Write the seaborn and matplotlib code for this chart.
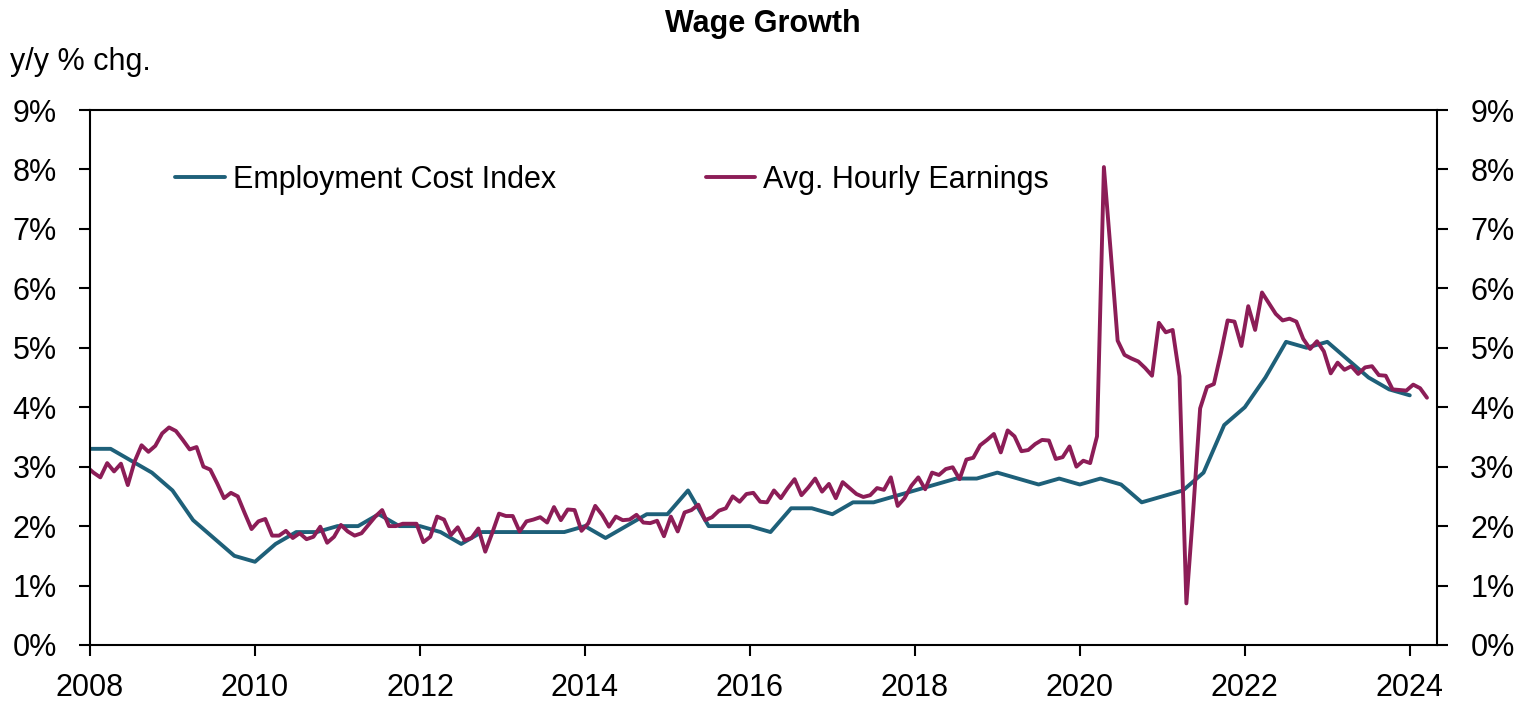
import numpy as np
import pandas as pd
import matplotlib
matplotlib.use("Agg")
import matplotlib.pyplot as plt
from matplotlib.ticker import FuncFormatter
import seaborn as sns

# ---------------- data ----------------
# Employment Cost Index, y/y % chg, quarterly (Q4 2007 .. Q4 2023)
eci_start = "2007Q4"
eci_values = [3.3, 3.3, 3.1, 2.9, 2.6, 2.1, 1.8, 1.5, 1.4, 1.7, 1.9, 1.9,
              2.0, 2.0, 2.2, 2.0, 2.0, 1.9, 1.7, 1.9, 1.9, 1.9, 1.9, 1.9,
              2.0, 1.8, 2.0, 2.2, 2.2, 2.6, 2.0, 2.0, 2.0, 1.9, 2.3, 2.3,
              2.2, 2.4, 2.4, 2.5, 2.6, 2.7, 2.8, 2.8, 2.9, 2.8, 2.7, 2.8,
              2.7, 2.8, 2.7, 2.4, 2.5, 2.6, 2.9, 3.7, 4.0, 4.5, 5.1, 5.0,
              5.1, 4.8, 4.5, 4.3, 4.2]

# Average Hourly Earnings, y/y % chg, monthly (Dec 2007 .. Mar 2024)
ahe_start = "2007-12"
ahe_values = [3.00, 2.90, 2.82, 3.06, 2.92, 3.05, 2.69, 3.09, 3.36, 3.25, 3.35, 3.56,
              3.66, 3.60, 3.45, 3.29, 3.33, 3.00, 2.95, 2.72, 2.47, 2.56, 2.50, 2.22,
              1.95, 2.08, 2.12, 1.84, 1.84, 1.92, 1.80, 1.88, 1.78, 1.82, 1.99, 1.72,
              1.82, 2.02, 1.91, 1.84, 1.88, 2.02, 2.16, 2.27, 2.00, 2.00, 2.04, 2.04,
              2.04, 1.73, 1.82, 2.16, 2.11, 1.85, 1.98, 1.76, 1.80, 1.96, 1.57, 1.88,
              2.21, 2.17, 2.17, 1.91, 2.08, 2.11, 2.15, 2.06, 2.32, 2.10, 2.28, 2.27,
              1.92, 2.05, 2.34, 2.19, 1.99, 2.16, 2.10, 2.11, 2.19, 2.06, 2.05, 2.09,
              1.83, 2.16, 1.91, 2.23, 2.27, 2.36, 2.10, 2.15, 2.26, 2.30, 2.50, 2.41,
              2.54, 2.56, 2.41, 2.40, 2.60, 2.47, 2.64, 2.79, 2.52, 2.65, 2.80, 2.58,
              2.71, 2.47, 2.74, 2.64, 2.54, 2.49, 2.52, 2.64, 2.61, 2.82, 2.34, 2.47,
              2.68, 2.82, 2.62, 2.90, 2.86, 2.96, 2.99, 2.79, 3.12, 3.15, 3.36, 3.45,
              3.55, 3.24, 3.61, 3.51, 3.26, 3.28, 3.38, 3.45, 3.44, 3.13, 3.16, 3.34,
              3.00, 3.10, 3.06, 3.51, 8.04, 6.60, 5.12, 4.88, 4.82, 4.77, 4.66, 4.53,
              5.42, 5.26, 5.30, 4.52, 0.70, 2.27, 3.98, 4.34, 4.39, 4.90, 5.46, 5.44,
              5.03, 5.70, 5.30, 5.93, 5.75, 5.57, 5.46, 5.49, 5.44, 5.15, 4.98, 5.11,
              4.94, 4.57, 4.75, 4.63, 4.69, 4.56, 4.67, 4.69, 4.54, 4.53, 4.30, 4.29,
              4.28, 4.38, 4.32, 4.16]

series_names = ["Employment Cost Index", "Avg. Hourly Earnings"]
x_ticks = [2008, 2010, 2012, 2014, 2016, 2018, 2020, 2022, 2024]
y_ticks = [0, 1, 2, 3, 4, 5, 6, 7, 8, 9]

# position each observation on a decimal-year axis
eci_q = pd.period_range(eci_start, periods=len(eci_values), freq="Q")
eci_x = [p.year + p.quarter / 4 for p in eci_q]          # quarter end
ahe_m = pd.period_range(ahe_start, periods=len(ahe_values), freq="M")
ahe_x = [p.year + (p.month - 0.5) / 12 for p in ahe_m]   # mid-month

eci_df = pd.DataFrame({"x": eci_x, "y": eci_values})
ahe_df = pd.DataFrame({"x": ahe_x, "y": ahe_values})

# ---------------- style ----------------
sns.set_style("ticks")
plt.rcParams["font.family"] = ["Liberation Sans", "DejaVu Sans"]
plt.rcParams["text.color"] = "black"
plt.rcParams["axes.labelcolor"] = "black"
plt.rcParams["xtick.color"] = "black"
plt.rcParams["ytick.color"] = "black"
plt.rcParams["axes.linewidth"] = 1.5

ECI_COLOR = "#1E6079"
AHE_COLOR = "#8C1D57"
FS = 22
LW = 2.8

fig = plt.figure(figsize=(15.18, 7.05), dpi=100)
ax = fig.add_axes([90 / 1518, 60 / 705, (1437 - 90) / 1518, (645 - 110) / 705])

sns.lineplot(data=eci_df, x="x", y="y", ax=ax, color=ECI_COLOR, linewidth=LW,
             label=series_names[0])
sns.lineplot(data=ahe_df, x="x", y="y", ax=ax, color=AHE_COLOR, linewidth=LW,
             label=series_names[1])

ax.set_xlim(2008.0, 2024.33)
ax.set_ylim(0, 9)
ax.set_xticks(x_ticks)
ax.set_xticklabels([str(t) for t in x_ticks])
ax.set_yticks(y_ticks)
ax.yaxis.set_major_formatter(FuncFormatter(lambda v, p: f"{v:.0f}%"))
ax.set_xlabel("")
ax.set_ylabel("")

for s in ["top", "right", "left", "bottom"]:
    ax.spines[s].set_visible(True)
    ax.spines[s].set_color("black")
    ax.spines[s].set_linewidth(1.5)

ax.tick_params(axis="y", which="major", left=True, right=True, labelleft=True,
               labelright=True, direction="out", length=8, width=1.5,
               labelsize=FS, pad=16, colors="black")
ax.tick_params(axis="x", which="major", bottom=True, top=False, direction="out",
               length=8, width=1.5, labelsize=FS, pad=12, colors="black")

leg = ax.legend(loc="center left", bbox_to_anchor=((175 - 90) / 1347, (645 - 180) / 535),
                ncol=2, frameon=False, fontsize=FS, handlelength=1.63,
                handletextpad=0.26, columnspacing=4.9, borderpad=0, borderaxespad=0)
for line in leg.get_lines():
    line.set_linewidth(LW)
for t in leg.get_texts():
    t.set_color("black")

fig.text(763 / 1518, 1 - 24 / 705, "Wage Growth", ha="center", va="center",
         fontsize=FS, fontweight="bold", color="black")
fig.text(10 / 1518, 1 - 62 / 705, "y/y % chg.", ha="left", va="center",
         fontsize=FS, color="black")

fig.savefig("out.png", dpi=100)
